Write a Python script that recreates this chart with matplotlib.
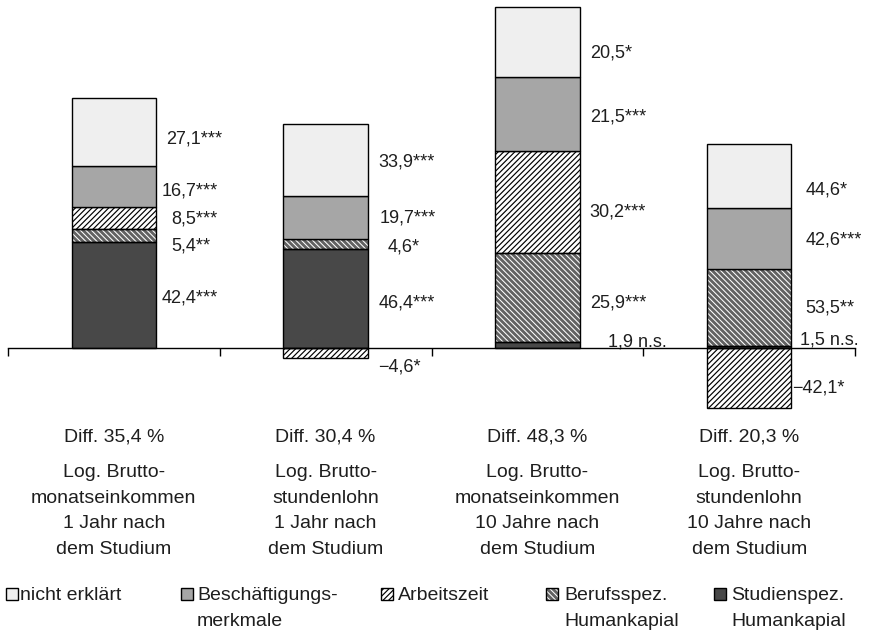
import matplotlib
matplotlib.use("Agg")
import matplotlib.pyplot as plt
from matplotlib.patches import Rectangle
from matplotlib import transforms

plt.rcParams['font.family'] = ['Liberation Sans', 'DejaVu Sans']
plt.rcParams['hatch.linewidth'] = 1.0

# ---------------- data ----------------
categories = [
    "Log. Brutto-\nmonatseinkommen\n1 Jahr nach\ndem Studium",
    "Log. Brutto-\nstundenlohn\n1 Jahr nach\ndem Studium",
    "Log. Brutto-\nmonatseinkommen\n10 Jahre nach\ndem Studium",
    "Log. Brutto-\nstundenlohn\n10 Jahre nach\ndem Studium",
]
diffs = [35.4, 30.4, 48.3, 20.3]

components = ["Studienspez.\nHumankapial", "Berufsspez.\nHumankapial", "Arbeitszeit",
              "Beschäftigungs-\nmerkmale", "nicht erklärt"]
studienspez = [42.4, 46.4, 1.9, 1.5]
berufsspez = [5.4, 4.6, 25.9, 53.5]
arbeitszeit = [8.5, -4.6, 30.2, -42.1]
beschaeftigung = [16.7, 19.7, 21.5, 42.6]
nicht_erklaert = [27.1, 33.9, 20.5, 44.6]

sig_studienspez = ["***", "***", " n.s.", " n.s."]
sig_berufsspez = ["**", "*", "***", "**"]
sig_arbeitszeit = ["***", "*", "***", "*"]
sig_beschaeftigung = ["***", "***", "***", "***"]
sig_nicht_erklaert = ["***", "***", "*", "*"]

series = [studienspez, berufsspez, arbeitszeit, beschaeftigung, nicht_erklaert]
sigs = [sig_studienspez, sig_berufsspez, sig_arbeitszeit, sig_beschaeftigung, sig_nicht_erklaert]

# ---------------- styles ----------------
styles = [
    dict(face='#484848', hatch=None, hcol=None),
    dict(face='#626262', hatch='\\\\\\\\\\\\', hcol='white'),
    dict(face='white', hatch='//////', hcol='black'),
    dict(face='#a6a6a6', hatch=None, hcol=None),
    dict(face='#efefef', hatch=None, hcol=None),
]
# label nudges in pixels (dx right of bar edge, dy downward), per component, per bar
label_dx = [[5, 11, 28, 9], [15, 20, 10, 14], [15, 10, 10, 1], [5, 12, 10, 14], [10, 10, 10, 14]]
label_dy = [[3, 5, -3, -7], [11, 3, 6, 0], [1, 14, 10, 10], [4, 0, 3, 1], [7, 2, 11, 14]]

TXT = '#1e1e1e'
FS_LAB = 13
FS = 14
W, H = 869, 632
fig = plt.figure(figsize=(W / 100, H / 100), dpi=100)

ax_left, ax_right, ax_top, ax_bot = 8, 855, 0, 420
zero_px = 348
scale = 7.05  # px per unit
ax = fig.add_axes([ax_left / W, 1 - ax_bot / H, (ax_right - ax_left) / W, (ax_bot - ax_top) / H])
ax.set_xlim(-0.5, 3.5)
ax.set_ylim(-(ax_bot - zero_px) / scale, (zero_px - ax_top) / scale)

x = list(range(len(categories)))
bw = 0.4
pos_cum = [0.0] * 4
neg_cum = [0.0] * 4


def fmt(v):
    s = f"{abs(v):.1f}".replace('.', ',')
    return ('\u2212' if v < 0 else '') + s


def hatch_lw(st):
    return 0.75 if st['hcol'] == 'white' else 0.85


px2pt = 0.72
for ci, (vals, st) in enumerate(zip(series, styles)):
    heights = [v / 100.0 * d for v, d in zip(vals, diffs)]
    bottoms = []
    for i, h in enumerate(heights):
        if h >= 0:
            bottoms.append(pos_cum[i]); pos_cum[i] += h
        else:
            bottoms.append(neg_cum[i]); neg_cum[i] += h
    if st['hatch']:
        bars = ax.bar(x, heights, bw, bottom=bottoms, color=st['face'], edgecolor=st['hcol'],
                      hatch=st['hatch'], linewidth=0, zorder=2)
        for b in bars:
            if hasattr(b, 'set_hatch_linewidth'):
                b.set_hatch_linewidth(hatch_lw(st))
        ax.bar(x, heights, bw, bottom=bottoms, fill=False, edgecolor='black', linewidth=1.0, zorder=3)
    else:
        ax.bar(x, heights, bw, bottom=bottoms, color=st['face'], edgecolor='black',
               linewidth=1.0, zorder=3)
    for i, h in enumerate(heights):
        cy = bottoms[i] + h / 2.0
        ax.annotate(fmt(vals[i]) + sigs[ci][i], xy=(x[i] + bw / 2, cy),
                    xytext=(label_dx[ci][i] * px2pt, -label_dy[ci][i] * px2pt),
                    textcoords='offset points', ha='left', va='center',
                    fontsize=FS_LAB, color=TXT, annotation_clip=False)

# axis
for s in ['top', 'right', 'left']:
    ax.spines[s].set_visible(False)
ax.spines['bottom'].set_position(('data', 0))
ax.spines['bottom'].set_linewidth(1.0)
ax.spines['bottom'].set_zorder(4)
ax.set_yticks([])
ax.set_xticks([-0.5, 0.5, 1.5, 2.5, 3.5])
ax.set_xticklabels([])
ax.tick_params(axis='x', direction='out', length=5.5, width=1.0, color='black')
ax.patch.set_visible(False)

# category labels
trans = transforms.blended_transform_factory(ax.transData, fig.transFigure)
for i, (cat, d) in enumerate(zip(categories, diffs)):
    ax.text(x[i], 1 - 442 / H, "Diff. " + f"{d:.1f}".replace('.', ',') + " %", transform=trans,
            ha='center', va='baseline', fontsize=FS, color=TXT)
    ax.text(x[i], 1 - 464 / H, cat, transform=trans, ha='center', va='top',
            fontsize=FS, color=TXT, linespacing=1.66)

# legend (manual)
leg_order = [4, 3, 2, 1, 0]
sq_x = [6, 181, 381, 546, 714]
tx_x = [20, 197, 398, 564, 731]
sq = 12
for k, ci in enumerate(leg_order):
    st = styles[ci]
    x0 = sq_x[k] / W
    y0 = 1 - 600 / H
    if st['hatch']:
        r = Rectangle((x0, y0), sq / W, sq / H, transform=fig.transFigure, facecolor=st['face'],
                      edgecolor=st['hcol'], hatch=st['hatch'], linewidth=0)
        if hasattr(r, 'set_hatch_linewidth'):
            r.set_hatch_linewidth(hatch_lw(st))
        fig.patches.append(r)
        fig.patches.append(Rectangle((x0, y0), sq / W, sq / H, transform=fig.transFigure,
                                     fill=False, edgecolor='black', linewidth=1.0))
    else:
        fig.patches.append(Rectangle((x0, y0), sq / W, sq / H, transform=fig.transFigure,
                                     facecolor=st['face'], edgecolor='black', linewidth=1.0))
    fig.text(tx_x[k] / W, 1 - 587 / H, components[ci], ha='left', va='top',
             fontsize=FS, color=TXT, linespacing=1.66)

fig.savefig("out.png", dpi=100)
